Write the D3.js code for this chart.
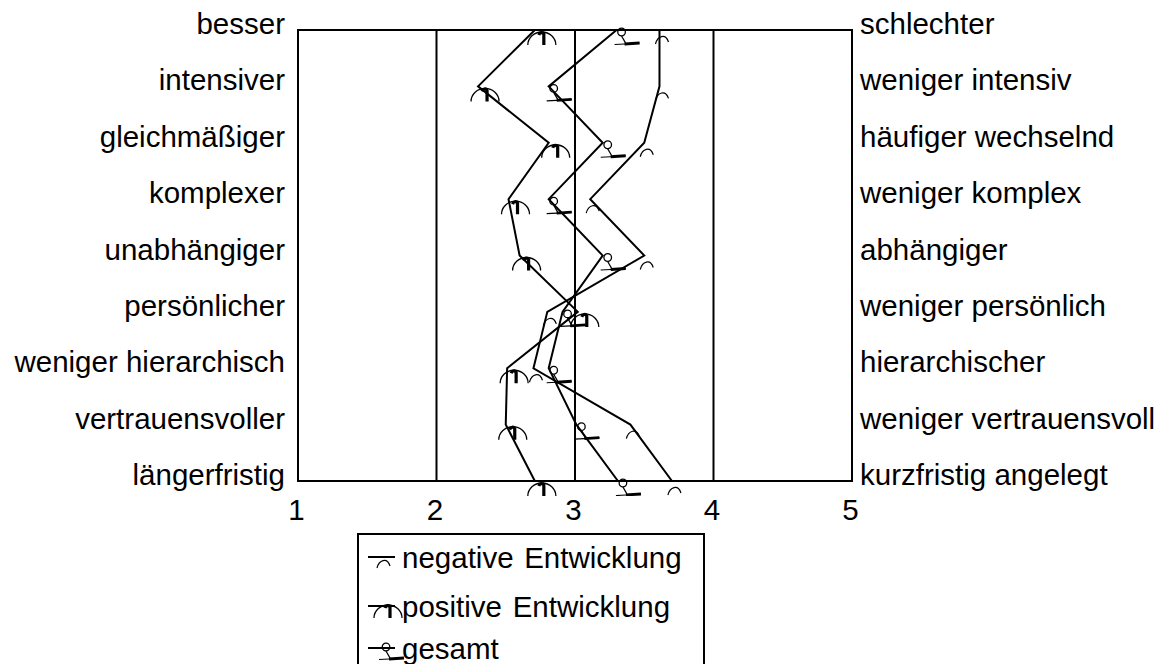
<!DOCTYPE html>
<html>
<head>
<meta charset="utf-8">
<script src="https://cdn.jsdelivr.net/npm/d3@7"></script>
<style>
  body { margin: 0; background: #fff; }
  text { font-family: "Liberation Sans", Arial, sans-serif; fill: #000; }
</style>
</head>
<body>
<div id="wrapper"></div>
<script>
const leftLabels = ["besser", "intensiver", "gleichmäßiger", "komplexer", "unabhängiger",
  "persönlicher", "weniger hierarchisch", "vertrauensvoller", "längerfristig"]
const rightLabels = ["schlechter", "weniger intensiv", "häufiger wechselnd", "weniger komplex",
  "abhängiger", "weniger persönlich", "hierarchischer", "weniger vertrauensvoll", "kurzfristig angelegt"]
const xTicks = [1, 2, 3, 4, 5]
const gridValues = [2, 3, 4]

const negativeValues = [3.61, 3.61, 3.50, 3.11, 3.50, 2.80, 2.70, 3.40, 3.70]
const positiveValues = [2.71, 2.30, 2.81, 2.52, 2.60, 3.02, 2.51, 2.50, 2.71]
const gesamtValues = [3.30, 2.81, 3.20, 2.81, 3.20, 2.91, 2.81, 3.01, 3.31]

const seriesNames = ["negative\u200A Entwicklung", "positive\u200A Entwicklung", "gesamt"]
const seriesKeys = ["negative", "positive", "gesamt"]

const fontSize = 29.5

const dimensions = {
  width: 1165,
  height: 664,
  margin: { top: 30, right: 313, bottom: 183, left: 298 }
}
dimensions.boundedWidth = dimensions.width - dimensions.margin.left - dimensions.margin.right
dimensions.boundedHeight = dimensions.height - dimensions.margin.top - dimensions.margin.bottom

const svg = d3.select("#wrapper")
  .append("svg")
    .attr("width", dimensions.width)
    .attr("height", dimensions.height)

const bounds = svg.append("g")
    .attr("transform", `translate(${dimensions.margin.left},${dimensions.margin.top})`)

const xScale = d3.scaleLinear()
    .domain([1, 5])
    .range([0, dimensions.boundedWidth])

const yScale = d3.scalePoint()
    .domain(d3.range(leftLabels.length))
    .range([0, dimensions.boundedHeight])

// gridlines
bounds.selectAll(".grid")
  .data(gridValues)
  .enter().append("line")
    .attr("x1", d => xScale(d))
    .attr("x2", d => xScale(d))
    .attr("y1", 0)
    .attr("y2", dimensions.boundedHeight)
    .attr("stroke", "#000")
    .attr("stroke-width", 2)

// frame
bounds.append("rect")
    .attr("width", dimensions.boundedWidth)
    .attr("height", dimensions.boundedHeight)
    .attr("fill", "none")
    .attr("stroke", "#000")
    .attr("stroke-width", 2)

// x axis
const xAxis = bounds.append("g")
    .attr("transform", `translate(0,${dimensions.boundedHeight})`)
    .call(d3.axisBottom(xScale).tickValues(xTicks).tickSize(0).tickPadding(18).tickFormat(d3.format("d")))
xAxis.select(".domain").remove()
xAxis.selectAll("text")
    .style("font-size", fontSize + "px")
    .attr("dx", "-2")

// side labels
bounds.selectAll(".left-label")
  .data(leftLabels)
  .enter().append("text")
    .attr("x", -13)
    .attr("y", (d, i) => yScale(i) + 4)
    .attr("text-anchor", "end")
    .style("font-size", fontSize + "px")
    .text(d => d)

bounds.selectAll(".right-label")
  .data(rightLabels)
  .enter().append("text")
    .attr("x", dimensions.boundedWidth + 8)
    .attr("y", (d, i) => yScale(i) + 4)
    .style("font-size", fontSize + "px")
    .text(d => d)

// markers (the original uses odd glyph markers)
const drawMarker = (g, key, x, y) => {
  const m = g.append("g").attr("transform", `translate(${x},${y})`)
  if (key === "negative") {
    m.append("path")
        .attr("d", "M-4,14 C-2,6 6,3 9,12")
        .attr("fill", "none").attr("stroke", "#000").attr("stroke-width", 1.2)
  } else if (key === "positive") {
    m.append("path")
        .attr("d", "M-7,15 A14,13 0 0 1 21,15")
        .attr("fill", "none").attr("stroke", "#000").attr("stroke-width", 1.3)
    m.append("path")
        .attr("d", "M4,5 C5,2 8,2 9,4 L9,15")
        .attr("fill", "none").attr("stroke", "#000").attr("stroke-width", 3.2)
  } else {
    m.append("circle")
        .attr("cx", 5).attr("cy", 2).attr("r", 3.8)
        .attr("fill", "none").attr("stroke", "#000").attr("stroke-width", 1.3)
    m.append("path")
        .attr("d", "M5,6 L9,13")
        .attr("fill", "none").attr("stroke", "#000").attr("stroke-width", 1.3)
    m.append("path")
        .attr("d", "M-2,14.5 L8,14 L23,13")
        .attr("fill", "none").attr("stroke", "#000").attr("stroke-width", 1.2)
    m.append("path")
        .attr("d", "M8,14 L23,13")
        .attr("fill", "none").attr("stroke", "#000").attr("stroke-width", 2.8)
  }
}

svg.append("clipPath").attr("id", "markerClip")
  .append("rect")
    .attr("x", -20).attr("y", -5)
    .attr("width", dimensions.boundedWidth + 40)
    .attr("height", dimensions.boundedHeight + 20)

const series = [
  { key: "negative", values: negativeValues },
  { key: "positive", values: positiveValues },
  { key: "gesamt", values: gesamtValues }
]

const lineGenerator = d3.line()
    .x(d => xScale(d))
    .y((d, i) => yScale(i))

series.forEach(s => {
  bounds.append("path")
      .attr("d", lineGenerator(s.values))
      .attr("fill", "none")
      .attr("stroke", "#000")
      .attr("stroke-width", 2)
  const mg = bounds.append("g").attr("clip-path", "url(#markerClip)")
  s.values.forEach((v, i) => drawMarker(mg, s.key, xScale(v), yScale(i)))
})

// legend
const legend = svg.append("g")
const legendX = 358, legendY = 534
legend.append("path")
    .attr("d", `M${legendX},${dimensions.height + 2} L${legendX},${legendY} L704,${legendY} L704,${dimensions.height + 2}`)
    .attr("fill", "none")
    .attr("stroke", "#000")
    .attr("stroke-width", 2)

const legendRowY = [557, 606, 648]
seriesKeys.forEach((key, i) => {
  const ly = legendRowY[i]
  legend.append("line")
      .attr("x1", 368).attr("x2", 395)
      .attr("y1", ly).attr("y2", ly)
      .attr("stroke", "#000").attr("stroke-width", 2)
  drawMarker(legend, key, 381, ly - 3)
  legend.append("text")
      .attr("x", 402)
      .attr("y", ly + 11)
      .style("font-size", fontSize + "px")
      .style("white-space", "pre")
      .text(seriesNames[i])
})
</script>
</body>
</html>
